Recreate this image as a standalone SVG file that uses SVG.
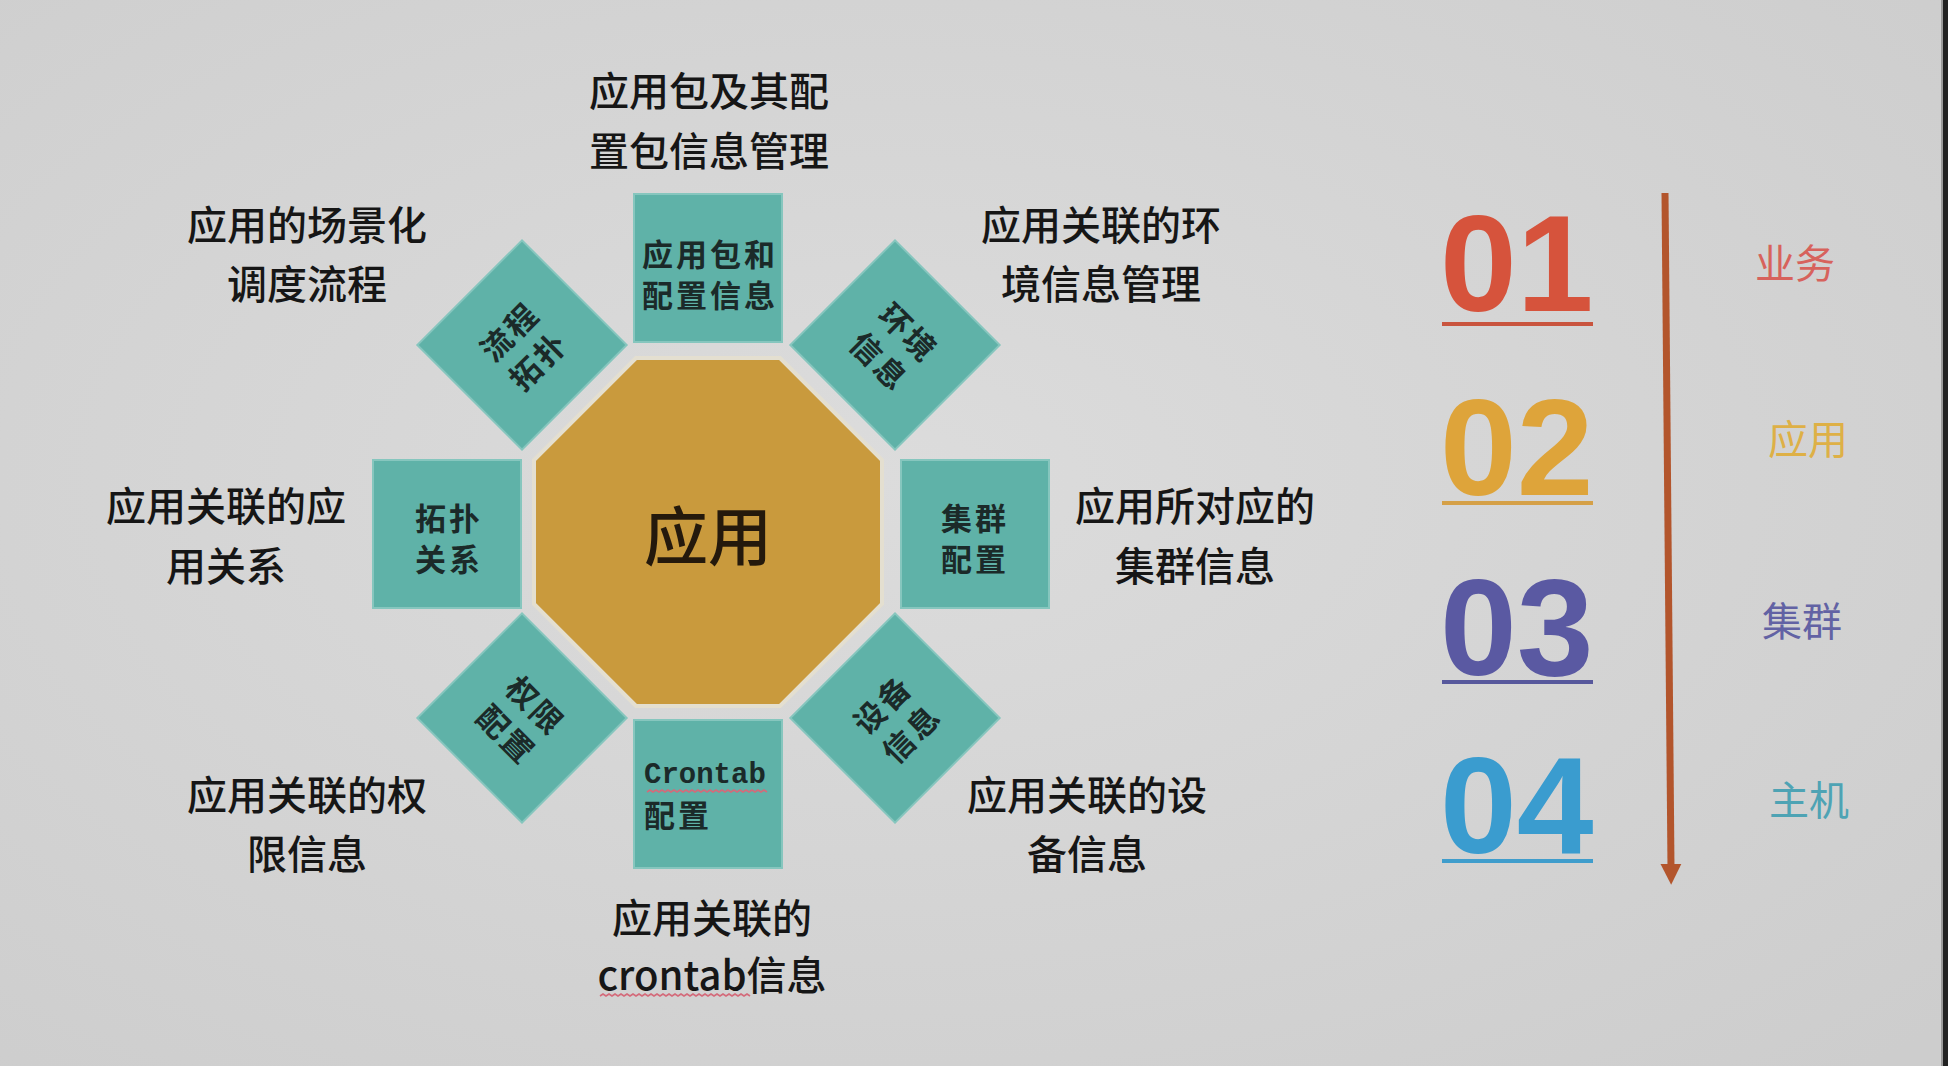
<svg xmlns="http://www.w3.org/2000/svg" width="1948" height="1066" viewBox="0 0 1948 1066">
  <defs>
    <radialGradient id="bg" cx="0.45" cy="0.45" r="0.75">
      <stop offset="0" stop-color="#dcdcdc"/>
      <stop offset="1" stop-color="#cdcdcd"/>
    </radialGradient>
    <marker id="arrowHead" viewBox="0 0 10 10" refX="2" refY="5" markerWidth="3" markerHeight="4" orient="auto" markerUnits="strokeWidth">
      <path d="M0,0 L10,5 L0,10 Z" fill="#b3552c"/>
    </marker>
    <style>
      .box { fill: #5fb2a8; stroke: #86c6be; stroke-width: 2; }
      .oct { fill: #c99a3d; stroke: #e4dfd0; stroke-width: 4; }
      .bt { font-family: "Noto Sans CJK SC", "Liberation Sans", sans-serif; font-weight: 700; font-size: 31px; fill: #1b2a29; text-anchor: middle; dominant-baseline: central; letter-spacing: 3px; }
      .lbl { font-family: "Noto Sans CJK SC", "Liberation Sans", sans-serif; font-weight: 500; font-size: 40px; fill: #161616; text-anchor: middle; dominant-baseline: central; }
      .num { font-family: "Liberation Sans", Arial, sans-serif; font-weight: 700; font-size: 138px; }
      .side { font-family: "Noto Sans CJK SC", "Liberation Sans", sans-serif; font-weight: 400; font-size: 40px; text-anchor: middle; dominant-baseline: central; }
      .wavy { fill: none; stroke: #d46a7a; stroke-width: 1.6; }
    </style>
  </defs>

  <rect x="0" y="0" width="1948" height="1066" fill="url(#bg)"/>
  <rect x="1941" y="0" width="2" height="1066" fill="#9a9a9a"/>
  <rect x="1943" y="0" width="5" height="1066" fill="#222222"/>

  <!-- center -->
  <g id="node-center">
    <polygon class="oct" points="636,358 780,358 882,460 882,604 780,706 636,706 534,604 534,460"/>
    <text x="708" y="532" font-family="'Noto Sans CJK SC', sans-serif" font-size="64" font-weight="500" fill="#24190c" text-anchor="middle" dominant-baseline="central">应用</text>
  </g>

  <!-- top box -->
  <g id="node-pkg">
    <rect class="box" x="634" y="194" width="148" height="148"/>
    <text class="bt" x="710" y="252">应用包和</text>
    <text class="bt" x="710" y="293">配置信息</text>
  </g>

  <!-- bottom box -->
  <g id="node-crontab">
    <rect class="box" x="634" y="720" width="148" height="148"/>
    <text x="644" y="783" font-family="'Liberation Mono', 'DejaVu Sans Mono', monospace" font-size="29" font-weight="700" fill="#1b2a29">Crontab</text>
    <path class="wavy" d="M647,792 l3,-2 l3,2 l3,-2 l3,2 l3,-2 l3,2 l3,-2 l3,2 l3,-2 l3,2 l3,-2 l3,2 l3,-2 l3,2 l3,-2 l3,2 l3,-2 l3,2 l3,-2 l3,2 l3,-2 l3,2 l3,-2 l3,2 l3,-2 l3,2 l3,-2 l3,2 l3,-2 l3,2 l3,-2 l3,2 l3,-2 l3,2 l3,-2 l3,2 l3,-2 l3,2 l3,-2 l3,2"/>
    <text class="bt" x="644" y="813" style="text-anchor:start">配置</text>
  </g>

  <!-- left box -->
  <g id="node-topo">
    <rect class="box" x="373" y="460" width="148" height="148"/>
    <text class="bt" x="449" y="516">拓扑</text>
    <text class="bt" x="449" y="557">关系</text>
  </g>

  <!-- right box -->
  <g id="node-cluster">
    <rect class="box" x="901" y="460" width="148" height="148"/>
    <text class="bt" x="975" y="516">集群</text>
    <text class="bt" x="975" y="557">配置</text>
  </g>

  <!-- diamonds -->
  <g id="node-flow">
    <rect class="box" x="448" y="271" width="148" height="148" transform="rotate(45 522 345)"/>
    <g transform="rotate(-45 522 345)">
      <text class="bt" x="523" y="325">流程</text>
      <text class="bt" x="523" y="366">拓扑</text>
    </g>
  </g>

  <g id="node-env">
    <rect class="box" x="821" y="271" width="148" height="148" transform="rotate(45 895 345)"/>
    <g transform="rotate(45 895 345)">
      <text class="bt" x="896" y="325">环境</text>
      <text class="bt" x="896" y="366">信息</text>
    </g>
  </g>

  <g id="node-perm">
    <rect class="box" x="448" y="644" width="148" height="148" transform="rotate(45 522 718)"/>
    <g transform="rotate(45 522 718)">
      <text class="bt" x="523" y="698">权限</text>
      <text class="bt" x="523" y="739">配置</text>
    </g>
  </g>

  <g id="node-device">
    <rect class="box" x="821" y="644" width="148" height="148" transform="rotate(45 895 718)"/>
    <g transform="rotate(-45 895 718)">
      <text class="bt" x="896" y="698">设备</text>
      <text class="bt" x="896" y="739">信息</text>
    </g>
  </g>

  <!-- outer labels -->
  <g id="label-pkg">
    <text class="lbl" x="709" y="89">应用包及其配</text>
    <text class="lbl" x="709" y="149">置包信息管理</text>
  </g>
  <g id="label-flow">
    <text class="lbl" x="307" y="223">应用的场景化</text>
    <text class="lbl" x="307" y="282">调度流程</text>
  </g>
  <g id="label-env">
    <text class="lbl" x="1101" y="223">应用关联的环</text>
    <text class="lbl" x="1101" y="282">境信息管理</text>
  </g>
  <g id="label-topo">
    <text class="lbl" x="226" y="504">应用关联的应</text>
    <text class="lbl" x="226" y="564">用关系</text>
  </g>
  <g id="label-cluster">
    <text class="lbl" x="1195" y="504">应用所对应的</text>
    <text class="lbl" x="1195" y="564">集群信息</text>
  </g>
  <g id="label-perm">
    <text class="lbl" x="307" y="793">应用关联的权</text>
    <text class="lbl" x="307" y="852">限信息</text>
  </g>
  <g id="label-device">
    <text class="lbl" x="1087" y="793">应用关联的设</text>
    <text class="lbl" x="1087" y="852">备信息</text>
  </g>
  <g id="label-crontab">
    <text class="lbl" x="712" y="916">应用关联的</text>
    <text class="lbl" x="712" y="973">crontab信息</text>
    <path class="wavy" d="M600,996 l3,-2 l3,2 l3,-2 l3,2 l3,-2 l3,2 l3,-2 l3,2 l3,-2 l3,2 l3,-2 l3,2 l3,-2 l3,2 l3,-2 l3,2 l3,-2 l3,2 l3,-2 l3,2 l3,-2 l3,2 l3,-2 l3,2 l3,-2 l3,2 l3,-2 l3,2 l3,-2 l3,2 l3,-2 l3,2 l3,-2 l3,2 l3,-2 l3,2 l3,-2 l3,2 l3,-2 l3,2 l3,-2 l3,2 l3,-2 l3,2 l3,-2 l3,2 l3,-2 l3,2 l3,-2 l3,2"/>
  </g>

  <!-- right legend -->
  <g id="layer-01">
    <text class="num" x="1440" y="311" fill="#d6533c">01</text>
    <rect x="1442" y="322" width="151" height="4" fill="#c9543e"/>
    <text class="side" x="1795" y="261" fill="#d7625c">业务</text>
  </g>
  <g id="layer-02">
    <text class="num" x="1440" y="495" fill="#dea43a">02</text>
    <rect x="1442" y="501" width="151" height="4" fill="#d5a047"/>
    <text class="side" x="1808" y="437" fill="#deb046">应用</text>
  </g>
  <g id="layer-03">
    <text class="num" x="1440" y="675" fill="#5a59a2">03</text>
    <rect x="1442" y="680" width="151" height="4" fill="#57589c"/>
    <text class="side" x="1802" y="619" fill="#6262a4">集群</text>
  </g>
  <g id="layer-04">
    <text class="num" x="1440" y="853" fill="#3a9ccf">04</text>
    <rect x="1442" y="859" width="151" height="4" fill="#3f9dcc"/>
    <text class="side" x="1809" y="798" fill="#4ea3b4">主机</text>
  </g>

  <g id="connectors">
    <line x1="1665" y1="193" x2="1671" y2="868" stroke="#b3552c" stroke-width="7" marker-end="url(#arrowHead)"/>
  </g>
</svg>
